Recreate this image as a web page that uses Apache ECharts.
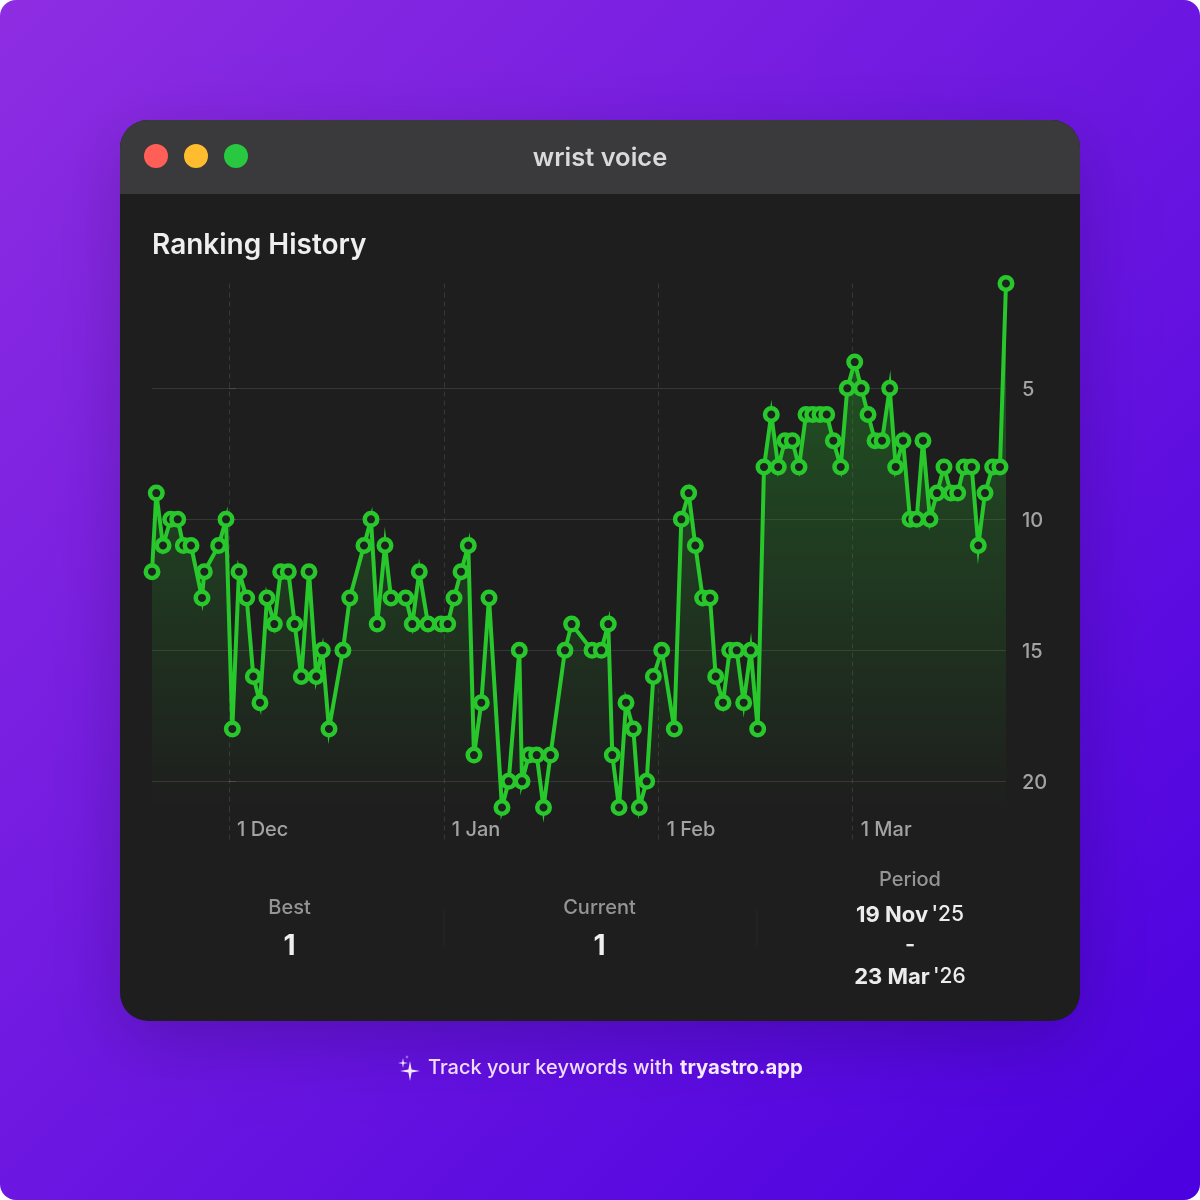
<!DOCTYPE html>
<html>
<head>
<meta charset="utf-8">
<title>Ranking History</title>
<script src="https://cdn.jsdelivr.net/npm/echarts@6/dist/echarts.min.js"></script>
<style>
    html, body { margin: 0; padding: 0; background: #fff; }
    #chart { width: 1200px; height: 1200px; }
</style>
</head>
<body>
<div id="chart"></div>
<script>
// Days relative to 1 Dec 2025
const rankDays = [
    -11.11, -10.49, -9.52, -8.41, -7.40, -6.59, -5.48, -3.90, -3.56, -1.49,
    -0.43, 0.48, 1.44, 2.55, 3.51, 4.47, 5.48, 6.54, 7.46, 8.56,
    9.48, 10.43, 11.54, 12.60, 13.46, 14.43, 16.44, 17.43, 19.48, 20.49,
    21.39, 22.51, 23.38, 25.50, 26.45, 27.46, 28.72, 30.59, 31.56, 32.47,
    33.48, 34.53, 35.35, 36.41, 37.52, 39.39, 40.36, 41.89, 42.28, 43.29,
    44.40, 45.38, 46.39, 48.48, 49.44, 52.38, 53.72, 54.73, 55.31, 56.28,
    57.29, 58.34, 59.21, 60.27, 61.23, 62.44, 64.26, 65.27, 66.33, 67.29,
    68.35, 69.41, 70.23, 71.28, 72.25, 73.26, 74.27, 75.28, 76.29, 77.20,
    78.25, 79.26, 80.23, 81.28, 82.25, 83.26, 84.23, 85.28, 86.25, 87.20,
    88.27, 89.22, 90.29, 91.24, 92.21, 93.22, 94.23, 95.34, 96.20, 97.26,
    98.27, 99.23, 100.14, 101.15, 102.16, 103.17, 104.18, 105.15, 106.06, 107.17,
    108.12, 109.09, 110.20, 111.25, 112.12
];
const ranks = [
    12, 9, 11, 10, 10, 11, 11, 13, 12, 11,
    10, 18, 12, 13, 16, 17, 13, 14, 12, 12,
    14, 16, 12, 16, 15, 18, 15, 13, 11, 10,
    14, 11, 13, 13, 14, 12, 14, 14, 14, 13,
    12, 11, 19, 17, 13, 21, 20, 15, 20, 19,
    19, 21, 19, 15, 14, 15, 15, 14, 19, 21,
    17, 18, 21, 20, 16, 15, 18, 10, 9, 11,
    13, 13, 16, 17, 15, 15, 17, 15, 18, 8,
    6, 8, 7, 7, 8, 6, 6, 6, 6, 7,
    8, 5, 4, 5, 6, 7, 7, 5, 8, 7,
    10, 10, 7, 10, 9, 8, 9, 9, 8, 8,
    11, 9, 8, 8, 1
];
const rankTicks = [5, 10, 15, 20];
const monthTicks = [0, 31, 62, 90];
const monthLabels = ['1 Dec', '1 Jan', '1 Feb', '1 Mar'];

const seriesData = rankDays.map((d, i) => [d, ranks[i]]);

const FONT = 'Inter, "Noto Sans", sans-serif';
const GREEN = '#28c82c';
const GRID_COLOR = 'rgba(255,255,255,0.11)';

function label(text, x, y, size, weight, color, align) {
    return {
        type: 'text',
        z: 1,
        style: {
            text: text, x: x, y: y,
            font: `${weight} ${size}px ${FONT}`,
            fill: color,
            align: align || 'center',
            verticalAlign: 'middle'
        }
    };
}

// Two-part date: bold day and month, lighter year
function dateLabel(day, year, y) {
    return {
        type: 'text',
        z: 1,
        style: {
            x: 910, y: y,
            text: `{d|${day}} {y|${year}}`,
            align: 'center',
            verticalAlign: 'middle',
            rich: {
                d: { font: `700 22px ${FONT}`, fill: '#ececec' },
                y: { font: `500 21px ${FONT}`, fill: '#ececec' }
            }
        }
    };
}

// Four-pointed star for the footer sparkle
function sparkle(cx, cy, r) {
    const k = r * 0.16;
    return {
        type: 'polygon',
        z: 1,
        shape: {
            points: [
                [cx, cy - r], [cx + k, cy - k], [cx + r, cy], [cx + k, cy + k],
                [cx, cy + r], [cx - k, cy + k], [cx - r, cy], [cx - k, cy - k]
            ]
        },
        style: { fill: '#f3e6ff' }
    };
}

const chrome = [
    // page background
    {
        type: 'rect', z: -10,
        shape: { x: 0, y: 0, width: 1200, height: 1200, r: 16 },
        style: {
            fill: new echarts.graphic.LinearGradient(0, 0, 1, 1, [
                { offset: 0, color: '#8e2de2' },
                { offset: 1, color: '#4a00e0' }
            ])
        }
    },
    // window
    {
        type: 'rect', z: -9,
        shape: { x: 120, y: 120, width: 960, height: 901, r: 28 },
        style: { fill: '#1e1e1e', shadowBlur: 70, shadowOffsetY: 20, shadowColor: 'rgba(0,0,0,0.2)' }
    },
    {
        type: 'rect', z: -8,
        shape: { x: 120, y: 120, width: 960, height: 74, r: [28, 28, 0, 0] },
        style: { fill: '#3a3a3c' }
    },
    { type: 'circle', z: 1, shape: { cx: 156, cy: 156, r: 12 }, style: { fill: '#ff5f57' } },
    { type: 'circle', z: 1, shape: { cx: 196, cy: 156, r: 12 }, style: { fill: '#febc2e' } },
    { type: 'circle', z: 1, shape: { cx: 236, cy: 156, r: 12 }, style: { fill: '#28c840' } },
    label('wrist voice', 600, 158, 25.5, 600, '#d9d9d9'),
    label('Ranking History', 152, 246, 28, 600, '#efefef', 'left'),

    // stats row
    label('Best', 289.5, 908, 20, 500, '#959595'),
    label('1', 289.5, 947, 28, 700, '#efefef'),
    label('Current', 599.5, 908, 20, 500, '#959595'),
    label('1', 599.5, 947, 28, 700, '#efefef'),
    label('Period', 910, 880, 20, 500, '#959595'),
    dateLabel('19 Nov', "'25", 915),
    label('-', 910, 945, 22, 600, '#ececec'),
    dateLabel('23 Mar', "'26", 977),
    { type: 'line', z: 1, shape: { x1: 444, y1: 910, x2: 444, y2: 946 }, style: { stroke: 'rgba(255,255,255,0.04)', lineWidth: 1 } },
    { type: 'line', z: 1, shape: { x1: 757, y1: 910, x2: 757, y2: 946 }, style: { stroke: 'rgba(255,255,255,0.04)', lineWidth: 1 } },

    // footer
    sparkle(410, 1071, 10),
    sparkle(403, 1063, 5),
    sparkle(407, 1057, 2),
    label('Track your keywords with', 428, 1068, 20, 500, '#efdcff', 'left'),
    label('tryastro.app', 680, 1068, 20.3, 700, '#f6eaff', 'left')
];

const chart = echarts.init(document.getElementById('chart'), null, { width: 1200, height: 1200 });

chart.setOption({
    animation: false,
    graphic: { elements: chrome },
    grid: { left: 152, top: 283.5, width: 854, height: 524, containLabel: false },
    xAxis: {
        type: 'value',
        z: 1,
        min: rankDays[0],
        max: rankDays[rankDays.length - 1],
        axisLine: { show: false },
        axisTick: {
            show: true,
            customValues: monthTicks,
            length: 34,
            lineStyle: { color: GRID_COLOR, type: [5, 4], width: 1.2 }
        },
        splitLine: {
            show: true,
            lineStyle: { color: GRID_COLOR, type: [5, 4], width: 1.2 }
        },
        axisLabel: {
            customValues: monthTicks,
            formatter: (value) => monthLabels[monthTicks.indexOf(value)] || '',
            align: 'left',
            padding: [0, 0, 0, 8],
            margin: 12,
            color: '#a3a3a3',
            fontFamily: FONT,
            fontWeight: 500,
            fontSize: 20
        }
    },
    yAxis: {
        type: 'value',
        z: 1,
        position: 'right',
        inverse: true,
        min: 1,
        max: 21,
        axisLine: { show: false },
        axisTick: {
            show: true,
            customValues: rankTicks,
            length: 7,
            lineStyle: { color: GRID_COLOR, width: 1 }
        },
        splitLine: { show: true, lineStyle: { color: GRID_COLOR, width: 1 } },
        axisLabel: {
            customValues: rankTicks,
            align: 'left',
            margin: 16,
            // rich text so the numbers can sit on the grid line
            formatter: (value) => `{n|${value}}`,
            rich: {
                n: {
                    padding: [4, 0, 0, 0],
                    color: '#a3a3a3',
                    fontFamily: FONT,
                    fontWeight: 500,
                    fontSize: 20
                }
            }
        }
    },
    series: [{
        name: 'Ranking',
        type: 'line',
        data: seriesData,
        clip: false,
        smooth: false,
        symbol: 'circle',
        symbolSize: 12.5,
        showAllSymbol: true,
        lineStyle: { color: GREEN, width: 4, join: 'miter', miterLimit: 10 },
        itemStyle: { color: '#1d241d', borderColor: GREEN, borderWidth: 4.5 },
        areaStyle: {
            origin: 'end',
            color: new echarts.graphic.LinearGradient(0, 0, 0, 1, [
                { offset: 0, color: 'rgba(40,200,44,0.5)' },
                { offset: 1, color: 'rgba(40,200,44,0)' }
            ])
        }
    }]
});
</script>
</body>
</html>
